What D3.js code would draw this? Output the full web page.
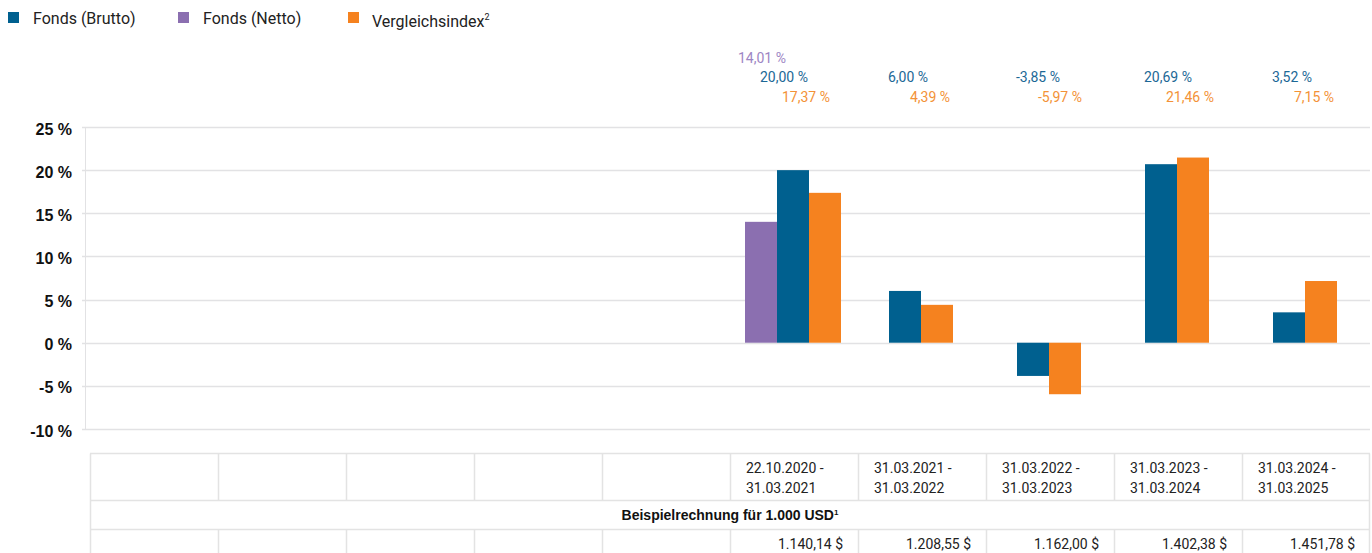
<!DOCTYPE html>
<html>
<head>
<meta charset="utf-8">
<script src="https://cdn.jsdelivr.net/npm/d3@7"></script>
<style>
  body { margin: 0; background: #fff; }
  svg { display: block; font-family: Roboto, "Liberation Sans", sans-serif; }
</style>
</head>
<body>
<script>
// chart data
var periodStart = ["", "", "", "", "", "22.10.2020 -", "31.03.2021 -", "31.03.2022 -", "31.03.2023 -", "31.03.2024 -"];
var periodEnd   = ["", "", "", "", "", "31.03.2021", "31.03.2022", "31.03.2023", "31.03.2024", "31.03.2025"];
var netto   = [null, null, null, null, null, 14.01, null, null, null, null];
var brutto  = [null, null, null, null, null, 20.00, 6.00, -3.85, 20.69, 3.52];
var vindex  = [null, null, null, null, null, 17.37, 4.39, -5.97, 21.46, 7.15];
var example = [null, null, null, null, null, 1140.14, 1208.55, 1162.00, 1402.38, 1451.78];
var yTicks = [-10, -5, 0, 5, 10, 15, 20, 25];

var series = [
    {key: "netto",  name: "Fonds (Netto)",   values: netto,  color: "#8b6fb0", text: "#9d86c4"},
    {key: "brutto", name: "Fonds (Brutto)",  values: brutto, color: "#00608f", text: "#1c6896"},
    {key: "vindex", name: "Vergleichsindex", values: vindex, color: "#f5821f", text: "#f39237"}
];
var legendOrder = ["brutto", "netto", "vindex"];

var width = 1372, height = 553;
var svg = d3.select("body").append("svg")
    .attr("width", width)
    .attr("height", height);

var de = d3.formatLocale({decimal: ",", thousands: ".", grouping: [3], currency: ["", " $"], minus: "-"});
var pct = de.format(".2f");
var money = de.format("$,.2f");

var x = d3.scaleBand().domain(d3.range(periodStart.length)).range([90, 1370]);
var y = d3.scaleLinear().domain([-10, 25]).range([429, 127]);
var barW = 32;

// legend
var legendX = {brutto: 8, netto: 178, vindex: 348};
var lg = svg.selectAll(".legend")
    .data(legendOrder.map(function(k){ return series.find(function(s){ return s.key === k; }); }))
    .enter().append("g")
    .attr("transform", function(d){ return "translate(" + legendX[d.key] + ",12)"; });
lg.append("rect").attr("width", 11).attr("height", 11).attr("fill", function(d){ return d.color; });
var lt = lg.append("text")
    .attr("x", function(d){ return d.key === "vindex" ? 24 : 25; })
    .attr("y", function(d){ return d.key === "vindex" ? 15 : 12; })
    .style("font-size", "16px").style("fill", "#222")
    .text(function(d){ return d.name; });
lt.filter(function(d){ return d.key === "vindex"; })
    .append("tspan").attr("dy", -7).style("font-size", "9px").text("2");

// grid
var grid = svg.append("g");
grid.selectAll("line")
    .data(yTicks).enter().append("line")
    .attr("x1", 82).attr("x2", 1370)
    .attr("y1", function(d){ return Math.round(y(d)) + 0.5; })
    .attr("y2", function(d){ return Math.round(y(d)) + 0.5; })
    .style("stroke", "#e2e2e4").style("stroke-width", 1.5);
svg.append("line")
    .attr("x1", 85.5).attr("x2", 85.5).attr("y1", y(25)).attr("y2", y(-10))
    .style("stroke", "#e2e2e4").style("stroke-width", 1);

// y axis
var yAxis = d3.axisLeft(y).tickValues(yTicks).tickSize(0).tickPadding(0)
    .tickFormat(function(d){ return d + " %"; });
var ya = svg.append("g").attr("transform", "translate(72,2)").call(yAxis);
ya.select(".domain").remove();
ya.selectAll("text")
    .style("font-family", "'Liberation Sans', Arial, sans-serif")
    .style("font-weight", "bold").style("font-size", "16px").style("fill", "#111");

// bars
var rowY = {netto: 63, brutto: 82, vindex: 102};
var offX = {netto: 8, brutto: 30, vindex: 52};
x.domain().forEach(function(i){
    var present = series.filter(function(s){ return s.values[i] !== null; });
    if (!present.length) return;
    var inner = d3.scaleBand().domain(present.map(function(s){ return s.key; }))
        .range([x(i) + x.bandwidth()/2 - present.length*barW/2 - 1,
                x(i) + x.bandwidth()/2 + present.length*barW/2 - 1]);
    svg.append("g").selectAll("rect")
        .data(present).enter().append("rect")
        .attr("x", function(s){ return inner(s.key); })
        .attr("width", inner.bandwidth())
        .attr("y", function(s){ return y(Math.max(0, s.values[i])); })
        .attr("height", function(s){ return Math.abs(y(s.values[i]) - y(0)); })
        .attr("fill", function(s){ return s.color; });

    // value labels above the plot
    svg.append("g").selectAll("text")
        .data(present).enter().append("text")
        .attr("x", function(s){ return x(i) + offX[s.key]; })
        .attr("y", function(s){ return rowY[s.key]; })
        .style("font-size", "14px")
        .style("fill", function(s){ return s.text; })
        .text(function(s){ return pct(s.values[i]) + " %"; });
});

// table below
var tb = svg.append("g");
var tTop = 453.5, r1 = 500.5, r2 = 529.5, tBottom = 560;
var borderColor = "#e3e3e3";
function hline(yy){
    tb.append("line").attr("x1", 90).attr("x2", 1370).attr("y1", yy).attr("y2", yy)
        .style("stroke", borderColor).style("stroke-width", 1.5);
}
function vline(xx, y1, y2){
    tb.append("line").attr("x1", xx).attr("x2", xx).attr("y1", y1).attr("y2", y2)
        .style("stroke", borderColor).style("stroke-width", 1.5);
}
hline(tTop); hline(r1); hline(r2);
vline(90.5, tTop, tBottom);
vline(1369.5, tTop, tBottom);
x.domain().slice(1).forEach(function(i){
    vline(Math.round(x(i)) + 0.5, tTop, r1);
    vline(Math.round(x(i)) + 0.5, r2, tBottom);
});

var cells = tb.selectAll(".cell").data(x.domain()).enter().append("g");
cells.append("text")
    .attr("x", function(i){ return x(i) + 16; }).attr("y", 473)
    .style("font-size", "14px").style("fill", "#222")
    .text(function(i){ return periodStart[i]; });
cells.append("text")
    .attr("x", function(i){ return x(i) + 16; }).attr("y", 493)
    .style("font-size", "14px").style("fill", "#222")
    .text(function(i){ return periodEnd[i]; });
cells.append("text")
    .attr("x", function(i){ return x(i) + x.bandwidth() - 15; }).attr("y", 549)
    .attr("text-anchor", "end")
    .style("font-size", "14px").style("fill", "#222")
    .text(function(i){ return example[i] === null ? "" : money(example[i]); });

var title = tb.append("text")
    .attr("x", 730).attr("y", 520).attr("text-anchor", "middle")
    .style("font-family", "'Liberation Sans', Arial, sans-serif")
    .style("font-weight", "bold").style("font-size", "14px").style("fill", "#111")
    .text("Beispielrechnung für 1.000 USD");
title.append("tspan").attr("dy", -5).style("font-size", "8px").text("1");
</script>
</body>
</html>
